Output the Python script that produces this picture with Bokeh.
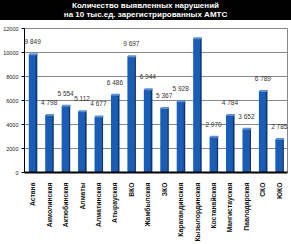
import math
from bokeh.plotting import figure
from bokeh.models import ColumnDataSource, Div, FactorRange, FixedTicker, Range1d, NumeralTickFormatter
from bokeh.transform import dodge
from bokeh.layouts import column
from bokeh.embed import file_html
from bokeh.resources import INLINE
from bokeh.core.properties import value

regions = ["Астана", "Акмолинская", "Актюбинская", "Алматы", "Алматинская", "Атырауская",
           "ВКО", "Жамбылская", "ЗКО", "Карагандинская", "Кызылординская", "Костанайская",
           "Мангистауская", "Павлодарская", "СКО", "ЮКО"]
violations = [9849, 4798, 5554, 5112, 4677, 6486, 9697, 6944, 5367, 5928, 11178, 2970,
              4784, 3652, 6789, 2785]
y_ticks = [0, 2000, 4000, 6000, 8000, 10000, 12000]

labels = [f"{v:,}".replace(",", " ") for v in violations]
src = ColumnDataSource(dict(x=regions, y=violations, lab=labels))

title = Div(
    text="Количество выявленных нарушений<br>на 10 тыс.ед. зарегистрированных АМТС",
    width=291, height=20, margin=(0, 0, 0, 0),
    styles={"background-color": "black", "color": "white", "font-family": "Liberation Sans",
            "font-weight": "bold", "font-size": "8px", "line-height": "9px",
            "text-align": "center", "width": "291px", "height": "20px", "overflow": "hidden",
            "padding-top": "1px", "box-sizing": "border-box"})

p = figure(x_range=FactorRange(*regions, range_padding=0), y_range=Range1d(0, 12000),
           width=291, height=224, output_backend="svg", toolbar_location=None, margin=(0, 0, 0, 0),
           min_border_top=8, min_border_bottom=71, min_border_left=23, min_border_right=4)
p.outline_line_color = "#888888"
p.outline_line_width = 1
p.background_fill_color = "white"
p.border_fill_color = "white"

# main bar face
p.vbar(x=dodge("x", -0.02, range=p.x_range), top="y", width=0.44, source=src,
       fill_color="#1a5db6", line_color=None)
# darker side face
p.vbar(x=dodge("x", 0.23, range=p.x_range), top="y", width=0.1, source=src,
       fill_color="#0c3670", line_color=None)
# lighter top
p.vbar(x=dodge("x", 0.05, range=p.x_range), top="y", bottom="y", width=0.5, source=src,
       line_color="#5d8fd6", line_width=2)

p.text(x="x", y="y", text="lab", source=src, text_align="center", text_baseline="bottom",
       y_offset=-9, text_font_size="6.5px", text_color="#333333",
       text_font=value("Liberation Sans"))

p.yaxis.ticker = FixedTicker(ticks=y_ticks)
p.yaxis.formatter = NumeralTickFormatter(format="0")
p.yaxis.major_label_text_font_size = "5.5px"
p.yaxis.major_label_text_font = "Liberation Sans"
p.yaxis.major_label_text_color = "#222222"
p.yaxis.minor_tick_line_color = None
p.yaxis.major_tick_out = 3
p.yaxis.major_tick_in = 0
p.yaxis.axis_line_color = "black"
p.yaxis.major_label_standoff = 3

p.xaxis.major_label_orientation = math.pi / 2
p.xaxis.major_label_text_font_size = "6.8px"
p.xaxis.major_label_text_font = "Liberation Sans"
p.xaxis.major_label_text_font_style = "bold"
p.xaxis.major_label_text_color = "#111111"
p.xaxis.major_tick_line_color = None
p.xaxis.axis_line_color = "black"
p.xaxis.axis_line_width = 2
p.xaxis.major_label_standoff = 4

p.xgrid.grid_line_color = None
p.ygrid.grid_line_color = "#888888"
p.ygrid.grid_line_width = 1

layout = column(title, p, spacing=0, margin=(0, 0, 0, 0))

open("out.html", "w").write(file_html(layout, INLINE))
